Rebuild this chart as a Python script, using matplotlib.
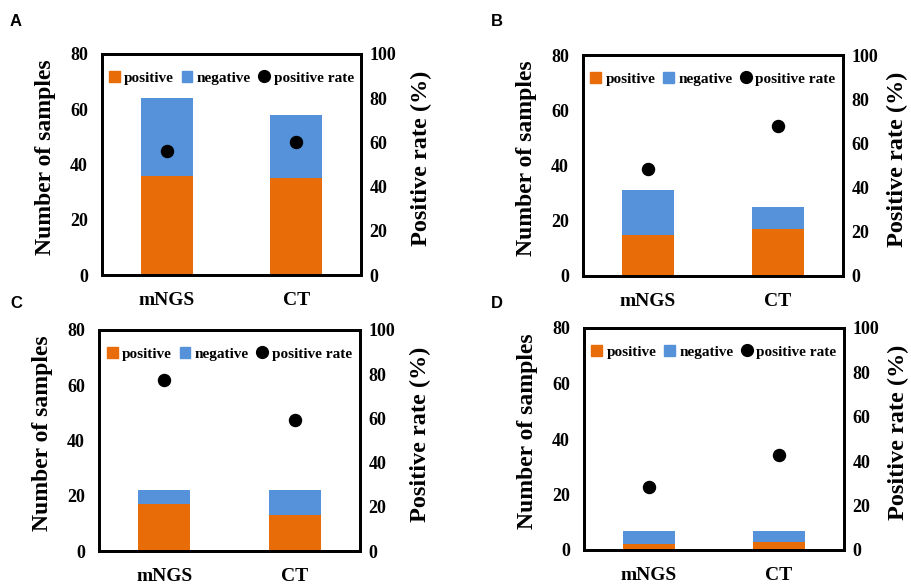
import matplotlib
matplotlib.use("Agg")
import matplotlib.pyplot as plt
import numpy as np
from matplotlib.lines import Line2D
from matplotlib.patches import Patch

categories = ["mNGS", "CT"]
panels = ["A", "B", "C", "D"]
positive = {"A": [36, 35], "B": [15, 17], "C": [17, 13], "D": [2, 3]}
negative = {"A": [28, 23], "B": [16, 8], "C": [5, 9], "D": [5, 4]}
count_ticks = [0, 20, 40, 60, 80]
rate_ticks = [0, 20, 40, 60, 80, 100]

ORANGE = "#E86C07"
BLUE = "#5592DA"
W, H = 912, 586
serif = ["Liberation Serif", "DejaVu Serif"]

fig = plt.figure(figsize=(W / 100, H / 100), dpi=100)

# axes boxes in pixel coords: left, top, right, bottom
boxes = {
    "A": (102, 54, 361, 275),
    "B": (583, 55, 843, 276),
    "C": (99, 330, 360, 551),
    "D": (584, 328, 844, 550),
}
letter_pos = {"A": (10, 22), "B": (491, 22), "C": (10, 303), "D": (491, 303)}
right_pad = {"A": 11, "B": 6, "C": 11, "D": 6}

for p in panels:
    l, t, r, b = boxes[p]
    ax = fig.add_axes([l / W, 1 - b / H, (r - l) / W, (b - t) / H])
    x = np.arange(len(categories))
    pos = np.array(positive[p])
    neg = np.array(negative[p])
    ax.bar(x, pos, width=0.4, color=ORANGE, zorder=2)
    ax.bar(x, neg, bottom=pos, width=0.4, color=BLUE, zorder=2)
    ax.set_xlim(-0.5, 1.5)
    ax.set_ylim(0, 80)
    ax.set_yticks(count_ticks)
    ax.set_xticks(x)
    ax.set_xticklabels(categories, fontfamily=serif, fontweight="bold", fontsize=14)
    for lab in ax.get_yticklabels():
        lab.set_fontfamily(serif)
        lab.set_fontweight("bold")
        lab.set_fontsize(13)
    ax.tick_params(axis="y", length=0, pad=10)
    ax.tick_params(axis="x", length=0, pad=12)
    for s in ax.spines.values():
        s.set_linewidth(2)
    ax.set_ylabel("Number of samples", fontfamily=serif, fontweight="bold", fontsize=17, labelpad=10)
    ax.yaxis.label.set_y(0.535)

    ax2 = ax.twinx()
    rate = pos / (pos + neg) * 100
    ax2.scatter(x, rate, s=75, color="black", zorder=3)
    ax2.set_ylim(0, 100)
    ax2.set_yticks(rate_ticks)
    for lab in ax2.get_yticklabels():
        lab.set_fontfamily(serif)
        lab.set_fontweight("bold")
        lab.set_fontsize(13)
    ax2.tick_params(axis="y", length=0, pad=6)
    for s in ax2.spines.values():
        s.set_linewidth(2)
    ax2.set_ylabel("Positive rate (%)", fontfamily=serif, fontweight="bold", fontsize=17.5,
                   labelpad=right_pad[p])
    ax2.yaxis.label.set_y(0.53)

    handles = [
        Patch(color=ORANGE, label="positive"),
        Patch(color=BLUE, label="negative"),
        Line2D([], [], marker="o", color="black", linestyle="none", markersize=8.5, label="positive rate"),
    ]
    ax.legend(handles=handles, loc="upper center", ncol=3, frameon=False,
              prop={"family": serif, "weight": "bold", "size": 11},
              handlelength=0.7, handleheight=0.7, handletextpad=0.3, columnspacing=0.5,
              bbox_to_anchor=(0.5, 0.985))

    lx, ly = letter_pos[p]
    fig.text(lx / W, 1 - ly / H, p, fontfamily=["Liberation Sans", "DejaVu Sans"],
             fontweight="bold", fontsize=12, va="center", ha="left")

fig.savefig("out.png", dpi=100)
